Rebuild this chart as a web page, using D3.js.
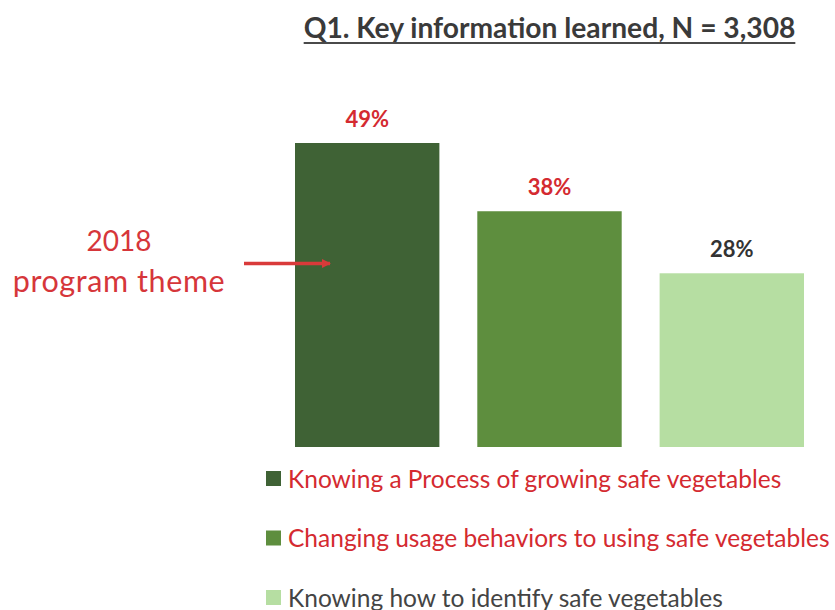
<!DOCTYPE html>
<html>
<head>
<meta charset="utf-8">
<script src="https://cdn.jsdelivr.net/npm/d3@7"></script>
<style>
  html, body { margin: 0; padding: 0; background: #ffffff; }
  svg { display: block; font-family: Lato, "Open Sans", sans-serif; }
</style>
</head>
<body>
<svg id="chart" width="835" height="610"></svg>
<script>
// Survey results: share of respondents per key information item
const categories = [
  "Knowing a Process of growing safe vegetables",
  "Changing usage behaviors to using safe vegetables",
  "Knowing how to identify safe vegetables"
];
const values = [49, 38, 28];
const valueLabels = ["49%", "38%", "28%"];
const barColors = ["#3f6235", "#5e8e3e", "#b6dea2"];
const labelColors = ["#d42a30", "#d42a30", "#333333"];
const legendColors = ["#d42a30", "#d42a30", "#444444"];
const titleText = "Q1. Key information learned, N = 3,308";
const noteLines = ["2018", "program theme"];

const svg = d3.select("#chart");

// Scales
const x = d3.scaleBand()
  .domain(categories)
  .range([295, 804])
  .paddingInner(0.208)
  .paddingOuter(0);

const y = d3.scaleLinear()
  .domain([0, 49])
  .range([447, 143]);

// Title (underlined)
const title = svg.append("text")
  .attr("x", 549.5)
  .attr("y", 38)
  .attr("text-anchor", "middle")
  .attr("font-size", 28.2)
  .attr("font-weight", 700)
  .attr("fill", "#3a3a3a")
  .text(titleText);
const tb = title.node().getBBox();
svg.append("line")
  .attr("x1", tb.x).attr("x2", tb.x + tb.width)
  .attr("y1", 43).attr("y2", 43)
  .attr("stroke", "#4a4a4a").attr("stroke-width", 1.8);

// Bars
svg.selectAll("rect.bar")
  .data(categories)
  .join("rect")
  .attr("class", "bar")
  .attr("x", d => x(d))
  .attr("width", x.bandwidth())
  .attr("y", (d, i) => y(values[i]))
  .attr("height", (d, i) => y(0) - y(values[i]))
  .attr("fill", (d, i) => barColors[i]);

// Value labels
svg.selectAll("text.value")
  .data(categories)
  .join("text")
  .attr("class", "value")
  .attr("x", d => x(d) + x.bandwidth() / 2)
  .attr("y", (d, i) => y(values[i]) - 16)
  .attr("text-anchor", "middle")
  .attr("font-size", 22)
  .attr("font-weight", 700)
  .attr("fill", (d, i) => labelColors[i])
  .text((d, i) => valueLabels[i]);

// Annotation with arrow pointing at the first bar
svg.append("defs").append("marker")
  .attr("id", "arrowhead")
  .attr("viewBox", "0 0 10 10")
  .attr("refX", 9).attr("refY", 5)
  .attr("markerWidth", 2.6).attr("markerHeight", 2.6)
  .attr("orient", "auto")
  .append("path")
  .attr("d", "M0,0 L10,5 L0,10 Z")
  .attr("fill", "#d93a3a");

svg.selectAll("text.note")
  .data(noteLines)
  .join("text")
  .attr("class", "note")
  .attr("x", 119)
  .attr("y", (d, i) => 251 + i * 41)
  .attr("text-anchor", "middle")
  .attr("font-size", (d, i) => i === 0 ? 28 : 30.5)
  .attr("letter-spacing", (d, i) => i === 0 ? 0 : 0.6)
  .attr("fill", "#d6363a")
  .text(d => d);

svg.append("line")
  .attr("x1", 244).attr("x2", x(categories[0]) + 35)
  .attr("y1", 263.5).attr("y2", 263.5)
  .attr("stroke", "#d93a3a")
  .attr("stroke-width", 3.5)
  .attr("marker-end", "url(#arrowhead)");

// Legend
const legend = svg.selectAll("g.legend")
  .data(categories)
  .join("g")
  .attr("class", "legend")
  .attr("transform", (d, i) => `translate(266, ${487.5 + i * 59.5})`);

legend.append("rect")
  .attr("x", 0).attr("y", -16.5)
  .attr("width", 15).attr("height", 15)
  .attr("fill", (d, i) => barColors[i]);

legend.append("text")
  .attr("x", 22)
  .attr("y", 0)
  .attr("font-size", 24.5)
  .attr("fill", (d, i) => legendColors[i])
  .text(d => d);
</script>
</body>
</html>
